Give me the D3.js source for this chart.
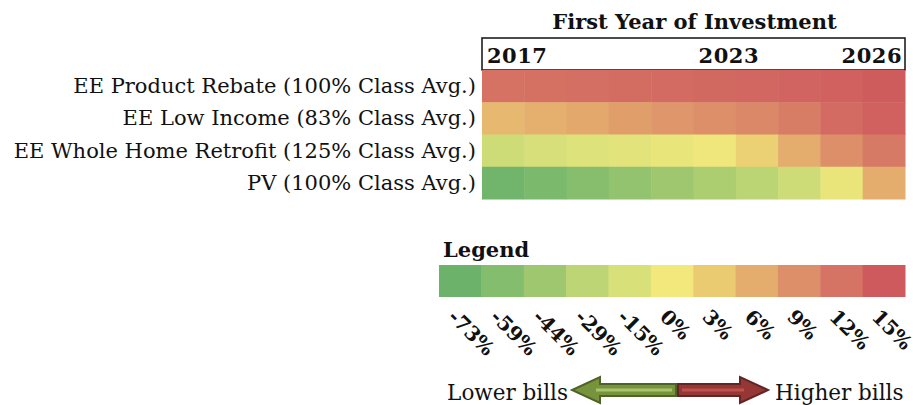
<!DOCTYPE html>
<html>
<head>
<meta charset="utf-8">
<script src="https://cdn.jsdelivr.net/npm/d3@7"></script>
<style>
  html, body { margin: 0; padding: 0; background: #fff; }
  svg { display: block; }
  text { font-family: "DejaVu Serif", "Liberation Serif", serif; fill: #111; }
</style>
</head>
<body>
<svg id="chart" width="913" height="405"></svg>
<script>
// ---- data ----
const years = [2017, 2018, 2019, 2020, 2021, 2022, 2023, 2024, 2025, 2026];
const yearLabels = ["2017", "2023", "2026"];
const categories = [
  "EE Product Rebate (100% Class Avg.)",
  "EE Low Income (83% Class Avg.)",
  "EE Whole Home Retrofit (125% Class Avg.)",
  "PV (100% Class Avg.)"
];
const productRebate = [12.2, 12.4, 12.6, 12.8, 13.0, 13.3, 13.6, 13.9, 14.2, 14.8];
const lowIncome     = [4.8, 5.6, 6.4, 7.4, 8.3, 9.0, 9.8, 11.0, 13.0, 14.2];
const wholeHome     = [-20, -16, -12, -9, -6, -2, 2.5, 6, 9, 11.5];
const pv            = [-70, -64, -57, -50, -44, -37, -30, -20, -5, 6];
const seriesValues = [productRebate, lowIncome, wholeHome, pv];

const legendValues = [-73, -59, -44, -29, -15, 0, 3, 6, 9, 12, 15];
const legendLabels = ["-73%", "-59%", "-44%", "-29%", "-15%", "0%", "3%", "6%", "9%", "12%", "15%"];
const legendColors = ["#6cb26a", "#84bd6e", "#9ec76f", "#bdd574", "#d8e07a", "#f2e87c",
                      "#ebcb72", "#e4ac6d", "#dc8f69", "#d57464", "#cf5a5d"];

// ---- layout ----
const svg = d3.select("#chart");
const color = d3.scaleLinear().domain(legendValues).range(legendColors).interpolate(d3.interpolateRgb);

const heat = { left: 482, right: 905, top: 70, bottom: 199 };
const x = d3.scaleBand().domain(years).range([heat.left, heat.right]).padding(0);
const y = d3.scaleBand().domain(categories).range([heat.top, heat.bottom]).padding(0);

// title
svg.append("text")
  .attr("x", (heat.left + heat.right) / 2 + 1).attr("y", 29)
  .attr("text-anchor", "middle")
  .style("font-size", "21px").style("font-weight", "bold")
  .text("First Year of Investment");

// header box
svg.append("rect")
  .attr("x", heat.left).attr("y", 38)
  .attr("width", heat.right - heat.left).attr("height", heat.top - 38)
  .attr("fill", "none").attr("stroke", "#111").attr("stroke-width", 1.5);

// year labels
const yearPos = {
  "2017": { x: x(2017) + 5, anchor: "start" },
  "2023": { x: x(2023) - 7, anchor: "middle" },
  "2026": { x: x(2026) + x.bandwidth() - 3, anchor: "end" }
};
svg.selectAll("text.year").data(yearLabels).join("text")
  .attr("class", "year")
  .attr("x", d => yearPos[d].x).attr("y", 63)
  .attr("text-anchor", d => yearPos[d].anchor)
  .style("font-size", "21px").style("font-weight", "bold")
  .style("letter-spacing", "0.5px")
  .text(d => d);

// heatmap cells
const cells = [];
seriesValues.forEach((vals, i) => vals.forEach((v, j) => cells.push({ cat: categories[i], year: years[j], v })));
svg.append("g").selectAll("rect").data(cells).join("rect")
  .attr("x", d => x(d.year)).attr("y", d => y(d.cat))
  .attr("width", x.bandwidth() + 0.5).attr("height", y.bandwidth() + 0.5)
  .attr("fill", d => color(d.v));

// row labels
svg.append("g").selectAll("text").data(categories).join("text")
  .attr("x", heat.left - 6)
  .attr("y", d => y(d) + y.bandwidth() / 2)
  .attr("dy", "0.33em")
  .attr("text-anchor", "end")
  .style("font-size", "21px")
  .text(d => d);

// legend
const leg = { left: 439, right: 905, top: 265, bottom: 297 };
const lx = d3.scaleBand().domain(legendValues).range([leg.left, leg.right]);
svg.append("text")
  .attr("x", leg.left + 4).attr("y", 257)
  .style("font-size", "21px").style("font-weight", "bold")
  .text("Legend");
svg.append("g").selectAll("rect").data(legendValues).join("rect")
  .attr("x", d => lx(d)).attr("y", leg.top)
  .attr("width", lx.bandwidth() + 0.5).attr("height", leg.bottom - leg.top)
  .attr("fill", d => color(d));
svg.append("g").selectAll("text").data(legendValues).join("text")
  .attr("transform", d => `translate(${lx(d) + 8},${leg.bottom + 21}) rotate(45)`)
  .style("font-size", "20px").style("font-weight", "bold")
  .text((d, i) => legendLabels[i]);

// arrows
const ay = 390, mid = 677;
function arrow(dir, len, fill, stroke, inner) {
  const g = svg.append("g");
  const bh = 6, hh = 13, hl = 28;
  const x0 = mid + dir * 1, tip = mid + dir * len, hb = tip - dir * hl;
  const pts = [[x0, ay - bh], [hb, ay - bh], [hb, ay - hh], [tip, ay], [hb, ay + hh], [hb, ay + bh], [x0, ay + bh]];
  g.append("path").attr("d", d3.line()(pts) + "Z")
    .attr("fill", fill).attr("stroke", stroke).attr("stroke-width", 2).attr("stroke-linejoin", "miter");
  g.append("path").attr("d", d3.line()([[x0 + dir * 4, ay], [hb + dir * 4, ay]]))
    .attr("stroke", inner).attr("stroke-width", 3);
}
arrow(-1, 105, "#77933c", "#4f6228", "#a9c46a");
arrow(1, 91, "#953735", "#632523", "#c0504d");

svg.append("text").attr("x", 568).attr("y", 400).attr("text-anchor", "end")
  .style("font-size", "21.5px").text("Lower bills");
svg.append("text").attr("x", 775).attr("y", 400).attr("text-anchor", "start")
  .style("font-size", "21.5px").text("Higher bills");
</script>
</body>
</html>
